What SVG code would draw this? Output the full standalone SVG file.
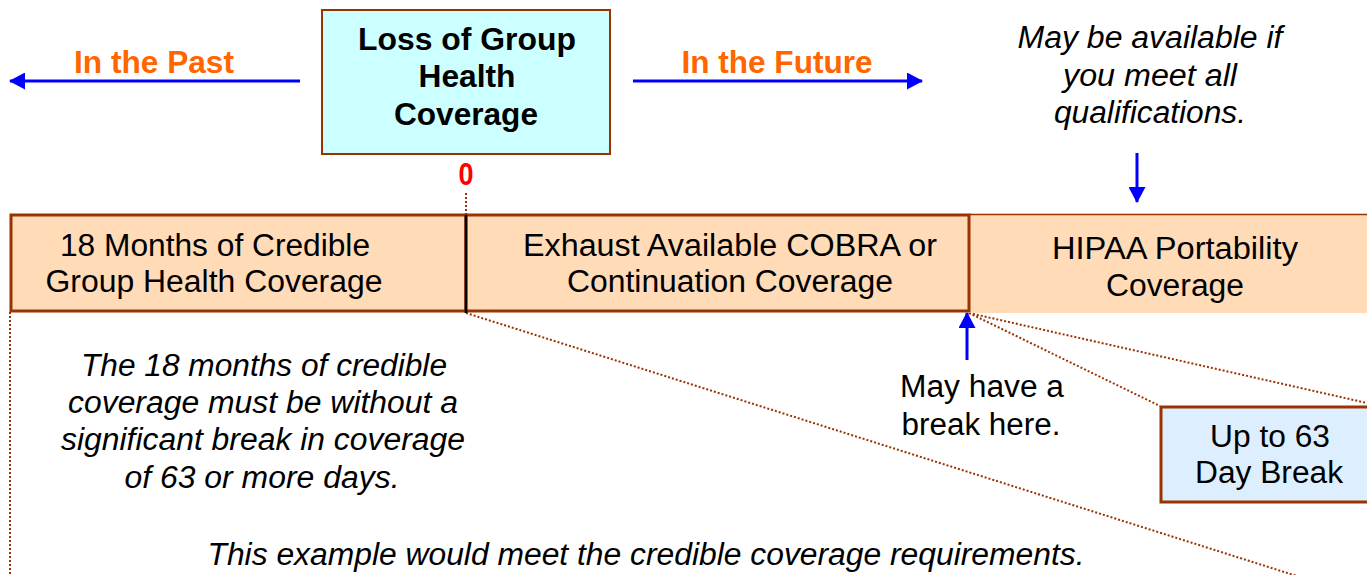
<svg xmlns="http://www.w3.org/2000/svg" width="1367" height="575" viewBox="0 0 1367 575">
<style>
text{font-family:"Liberation Sans",Arial,sans-serif;font-size:31px;fill:#000;text-anchor:middle}
.b{font-weight:bold}
.i{font-style:italic}
.or{fill:#FF6600;font-weight:bold}
.red{fill:#FF0000;font-weight:bold}
.blue{stroke:#0000FF;stroke-width:3;fill:none}
.dot{stroke:#993300;stroke-width:2;stroke-dasharray:2 2;fill:none}
.peach{fill:#FFDBB8}
</style>
<defs>
<marker id="ah" viewBox="0 0 16 17" refX="15" refY="8.5" markerWidth="16" markerHeight="17" orient="auto" markerUnits="userSpaceOnUse">
<path d="M0,0 L16,8.5 L0,17 Z" fill="#0000FF"/>
</marker>
</defs>
<g id="connectors">
<line class="blue" x1="300" y1="81" x2="10" y2="81" marker-end="url(#ah)"/>
<line class="blue" x1="633" y1="81" x2="922" y2="81" marker-end="url(#ah)"/>
<line class="blue" x1="1137" y1="153" x2="1137" y2="202" stroke-width="2.5" marker-end="url(#ah)"/>
<line class="blue" x1="967" y1="360" x2="967" y2="313" stroke-width="2.5" marker-end="url(#ah)"/>
<line class="dot" x1="466" y1="193" x2="466" y2="214" stroke-dasharray="6 4"/>
<line class="dot" x1="10" y1="312" x2="10" y2="575"/>
<line class="dot" x1="466" y1="313" x2="1300" y2="577"/>
<line class="dot" x1="969" y1="313" x2="1160" y2="406"/>
<line class="dot" x1="969" y1="313" x2="1367" y2="403"/>
</g>
<g id="past"><text class="or" x="154" y="73" textLength="160" lengthAdjust="spacingAndGlyphs">In the Past</text></g>
<g id="future"><text class="or" x="777" y="73" textLength="191" lengthAdjust="spacingAndGlyphs">In the Future</text></g>
<g id="loss">
<rect x="322" y="10" width="288" height="144" fill="#CCFFFF" stroke="#993300" stroke-width="2"/>
<text class="b" x="467" y="50" textLength="218" lengthAdjust="spacingAndGlyphs">Loss of Group</text>
<text class="b" x="467" y="87" textLength="97" lengthAdjust="spacingAndGlyphs">Health</text>
<text class="b" x="466" y="125" textLength="144" lengthAdjust="spacingAndGlyphs">Coverage</text>
</g>
<g id="zero"><text class="red" x="466" y="185" textLength="15" lengthAdjust="spacingAndGlyphs">0</text></g>
<g id="maybe">
<text class="i" x="1150" y="48" textLength="265" lengthAdjust="spacingAndGlyphs">May be available if</text>
<text class="i" x="1150" y="86" textLength="174" lengthAdjust="spacingAndGlyphs">you meet all</text>
<text class="i" x="1150" y="123" textLength="192" lengthAdjust="spacingAndGlyphs">qualifications.</text>
</g>
<g id="hipaa">
<rect class="peach" x="969" y="214" width="398" height="99"/>
<line x1="969" y1="214.5" x2="1367" y2="214.5" stroke="#993300" stroke-width="1.5"/>
<text x="1175" y="259" textLength="246" lengthAdjust="spacingAndGlyphs">HIPAA Portability</text>
<text x="1175" y="296" textLength="138" lengthAdjust="spacingAndGlyphs">Coverage</text>
</g>
<g id="months">
<rect class="peach" x="11" y="215" width="455" height="96" stroke="#993300" stroke-width="3"/>
<text x="215" y="256" textLength="310" lengthAdjust="spacingAndGlyphs">18 Months of Credible</text>
<text x="214" y="292" textLength="337" lengthAdjust="spacingAndGlyphs">Group Health Coverage</text>
</g>
<g id="cobra">
<rect class="peach" x="466" y="215" width="503" height="96" stroke="#993300" stroke-width="3"/>
<line x1="466" y1="215" x2="466" y2="313" stroke="#000" stroke-width="2.5"/>
<text x="730" y="256" textLength="414" lengthAdjust="spacingAndGlyphs">Exhaust Available COBRA or</text>
<text x="730" y="292" textLength="326" lengthAdjust="spacingAndGlyphs">Continuation Coverage</text>
</g>
<g id="note18">
<text class="i" x="264" y="376" textLength="366" lengthAdjust="spacingAndGlyphs">The 18 months of credible</text>
<text class="i" x="263" y="413" textLength="390" lengthAdjust="spacingAndGlyphs">coverage must be without a</text>
<text class="i" x="263" y="450" textLength="404" lengthAdjust="spacingAndGlyphs">significant break in coverage</text>
<text class="i" x="262" y="488" textLength="275" lengthAdjust="spacingAndGlyphs">of 63 or more days.</text>
</g>
<g id="break">
<text x="982" y="397" textLength="164" lengthAdjust="spacingAndGlyphs">May have a</text>
<text x="981" y="435" textLength="159" lengthAdjust="spacingAndGlyphs">break here.</text>
</g>
<g id="upto63">
<rect x="1161" y="407" width="210" height="95" fill="#DDEEFF" stroke="#993300" stroke-width="3"/>
<text x="1270" y="447" textLength="120" lengthAdjust="spacingAndGlyphs">Up to 63</text>
<text x="1269" y="483" textLength="148" lengthAdjust="spacingAndGlyphs">Day Break</text>
</g>
<g id="example">
<text class="i" x="646" y="565" textLength="877" lengthAdjust="spacingAndGlyphs">This example would meet the credible coverage requirements.</text>
</g>
</svg>
